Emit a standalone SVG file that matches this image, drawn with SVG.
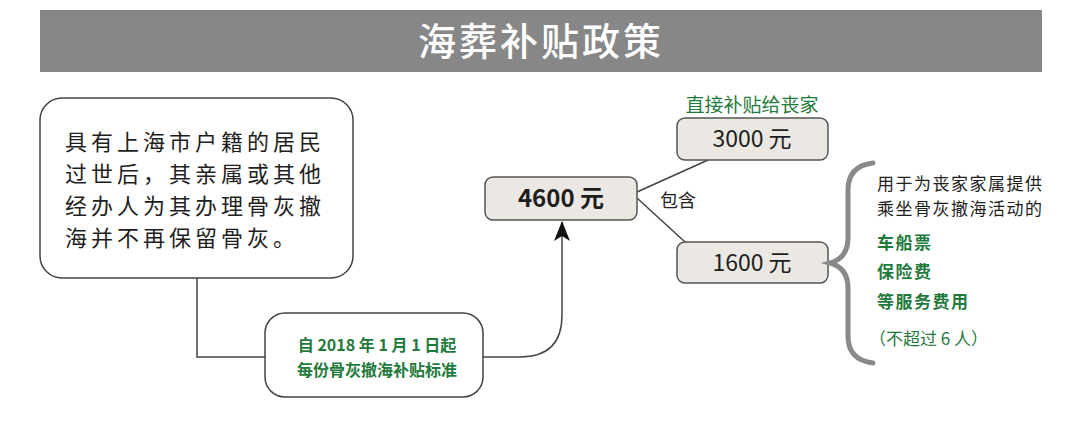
<svg xmlns="http://www.w3.org/2000/svg" width="1080" height="434" viewBox="0 0 1080 434">
<defs>
<style>
text{font-family:"Noto Sans CJK SC","Noto Sans",sans-serif;}
.body{font-size:22px;fill:#1e1e1e;letter-spacing:4px;}
.green{fill:#1f7a3c;}
.num{font-size:23px;fill:#1e1e1e;text-anchor:middle;}
.big{font-size:24px;font-weight:bold;}
.box{fill:#ebe7e2;stroke:#555;stroke-width:1.5;}
.wbox{fill:#fff;stroke:#444;stroke-width:1.5;}
.line{fill:none;stroke:#444;stroke-width:1.5;}
.side{font-size:17px;fill:#1e1e1e;letter-spacing:1.5px;}
.sideg{font-size:17px;fill:#1f7a3c;font-weight:bold;letter-spacing:1.5px;}
</style>
<marker id="arr" viewBox="0 0 20 16" refX="19" refY="8" markerWidth="20" markerHeight="16" markerUnits="userSpaceOnUse" orient="auto">
<path d="M20 8 L0 0 L5 8 L0 16 Z" fill="#111"/>
</marker>
</defs>
<rect width="1080" height="434" fill="#fff"/>
<g id="title">
<rect x="40" y="10" width="1002" height="62" fill="#878787"/>
<text x="541" y="55" text-anchor="middle" font-size="38" fill="#fff" font-weight="500" letter-spacing="3">海葬补贴政策</text>
</g>
<g id="connectors">
<path class="line" d="M197 278 V357 H265"/>
<path class="line" d="M483 357 H520 Q562 357 562 315 V222" marker-end="url(#arr)"/>
<path class="line" d="M637 192 L708 160"/>
<path class="line" d="M637 198 L685 242"/>
<text x="660" y="207" font-size="18" fill="#1e1e1e">包含</text>
</g>
<g id="resident">
<rect class="wbox" x="40" y="98" width="313" height="180" rx="22"/>
<text class="body" x="65" y="150">具有上海市户籍的居民</text>
<text class="body" x="65" y="182">过世后，其亲属或其他</text>
<text class="body" x="65" y="214">经办人为其办理骨灰撤</text>
<text class="body" x="65" y="246">海并不再保留骨灰。</text>
</g>
<g id="standard">
<rect class="wbox" x="265" y="313" width="218" height="84" rx="20"/>
<text x="377" y="351" text-anchor="middle" font-size="16" font-weight="bold" class="green">自 2018 年 1 月 1 日起</text>
<text x="377" y="376" text-anchor="middle" font-size="16" font-weight="bold" class="green">每份骨灰撤海补贴标准</text>
</g>
<g id="total">
<rect class="box" x="485" y="177" width="152" height="43" rx="8"/>
<text class="num big" x="561" y="207">4600 元</text>
</g>
<g id="direct">
<text x="752" y="112" text-anchor="middle" font-size="19" class="green">直接补贴给丧家</text>
<rect class="box" x="677" y="118" width="151" height="42" rx="8"/>
<text class="num" x="752" y="147">3000 元</text>
</g>
<g id="activity">
<rect class="box" x="677" y="242" width="151" height="41" rx="8"/>
<text class="num" x="752" y="271">1600 元</text>
</g>
<g id="details">
<path d="M873 163 Q848 166 848 190 V238 Q848 258 830 263 Q848 268 848 288 V336 Q848 360 873 363" fill="none" stroke="#8a8a8a" stroke-width="5" stroke-linecap="round"/>
<text class="side" x="877" y="190">用于为丧家家属提供</text>
<text class="side" x="877" y="215">乘坐骨灰撤海活动的</text>
<text class="sideg" x="877" y="249">车船票</text>
<text class="sideg" x="877" y="278">保险费</text>
<text class="sideg" x="877" y="308">等服务费用</text>
<text x="869" y="345" font-size="17" class="green">（不超过 6 人）</text>
</g>
</svg>
